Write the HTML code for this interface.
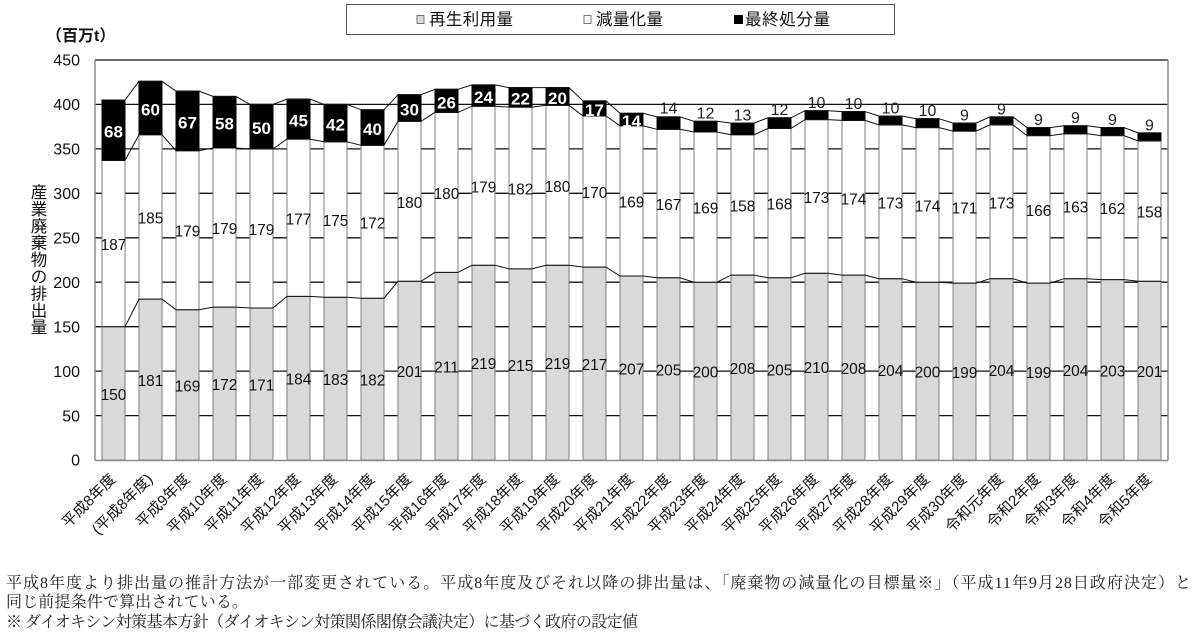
<!DOCTYPE html>
<html lang="ja">
<head>
<meta charset="utf-8">
<style>
  html,body{margin:0;padding:0;background:#fff;}
  svg{display:block;}
  .cjk{font-family:"Liberation Sans","Noto Sans CJK JP",sans-serif;}
  .g rect{fill:#d9d9d9;stroke:#7f7f7f;stroke-width:1;}
  .w rect{fill:#fff;stroke:#7f7f7f;stroke-width:1;}
  .b rect{fill:#000;stroke:#000;stroke-width:1;}
  .dl{font-family:"Liberation Sans",sans-serif;font-size:15.5px;fill:#111;text-anchor:middle;}
  .bl{font-family:"Liberation Sans",sans-serif;font-size:17px;font-weight:bold;fill:#fff;text-anchor:middle;}
  .al{font-family:"Liberation Sans",sans-serif;font-size:16px;fill:#222;text-anchor:middle;}
  .xl{font-family:"Liberation Sans","Noto Sans CJK JP",sans-serif;font-size:15px;fill:#111;text-anchor:end;}
  .yt{font-family:"Liberation Sans",sans-serif;font-size:16px;fill:#111;text-anchor:end;}
  .note{font-family:"Liberation Serif","Noto Serif CJK SC",serif;font-size:16px;fill:#222;}
</style>
</head>
<body>
<svg width="1200" height="635" viewBox="0 0 1200 635" xmlns="http://www.w3.org/2000/svg">
  <rect x="0" y="0" width="1200" height="635" fill="#fff"/>

  <!-- Legend -->
  <rect x="346.5" y="4.5" width="548" height="30" fill="#fff" stroke="#555" stroke-width="1"/>
  <rect x="417" y="15.5" width="7" height="8" fill="#d9d9d9" stroke="#555" stroke-width="0.8"/>
  <text class="cjk" x="429" y="25" font-size="16.5" fill="#111" textLength="84" lengthAdjust="spacing">再生利用量</text>
  <rect x="584" y="15.5" width="7" height="8" fill="#fff" stroke="#555" stroke-width="0.8"/>
  <text class="cjk" x="596" y="25" font-size="16.5" fill="#111" textLength="67" lengthAdjust="spacing">減量化量</text>
  <rect x="734" y="15" width="9" height="9" fill="#000"/>
  <text class="cjk" x="745" y="25" font-size="16.5" fill="#111" textLength="85" lengthAdjust="spacing">最終処分量</text>

  <!-- Unit -->
  <text class="cjk" x="46" y="41" font-size="16" font-weight="bold" fill="#111">（百万t）</text>

  <!-- Y axis title -->
  <g class="cjk" font-size="16.5" fill="#111" text-anchor="middle" dominant-baseline="central">
    <text x="39" y="193">産</text>
    <text x="39" y="209.9">業</text>
    <text x="39" y="226.8">廃</text>
    <text x="39" y="243.7">棄</text>
    <text x="39" y="260.6">物</text>
    <text x="39" y="277.5">の</text>
    <text x="39" y="294.4">排</text>
    <text x="39" y="311.3">出</text>
    <text x="39" y="328.2">量</text>
  </g>

  <!-- Y tick labels -->
  <g class="yt">
    <text x="80" y="465.7">0</text>
    <text x="80" y="421.3">50</text>
    <text x="80" y="376.8">100</text>
    <text x="80" y="332.4">150</text>
    <text x="80" y="287.9">200</text>
    <text x="80" y="243.5">250</text>
    <text x="80" y="199">300</text>
    <text x="80" y="154.6">350</text>
    <text x="80" y="110.1">400</text>
    <text x="80" y="65.7">450</text>
  </g>

  <!-- Gridlines -->
  <g stroke="#111" stroke-width="1.3">
    <line x1="95" y1="415.6" x2="1168" y2="415.6"/>
    <line x1="95" y1="371.1" x2="1168" y2="371.1"/>
    <line x1="95" y1="326.7" x2="1168" y2="326.7"/>
    <line x1="95" y1="282.2" x2="1168" y2="282.2"/>
    <line x1="95" y1="237.8" x2="1168" y2="237.8"/>
    <line x1="95" y1="193.3" x2="1168" y2="193.3"/>
    <line x1="95" y1="148.9" x2="1168" y2="148.9"/>
    <line x1="95" y1="104.4" x2="1168" y2="104.4"/>
    <line x1="95" y1="60" x2="1168" y2="60"/>
  </g>

  <!-- Gray bars -->
  <g class="g">
    <rect x="102" y="326.7" width="23" height="133.3"/>
    <rect x="139" y="299.1" width="23" height="160.9"/>
    <rect x="176" y="309.8" width="23" height="150.2"/>
    <rect x="213" y="307.1" width="23" height="152.9"/>
    <rect x="250" y="308" width="23" height="152"/>
    <rect x="287" y="296.4" width="23" height="163.6"/>
    <rect x="324" y="297.3" width="23" height="162.7"/>
    <rect x="361" y="298.2" width="23" height="161.8"/>
    <rect x="398" y="281.3" width="23" height="178.7"/>
    <rect x="435" y="272.4" width="23" height="187.6"/>
    <rect x="472" y="265.3" width="23" height="194.7"/>
    <rect x="509" y="268.9" width="23" height="191.1"/>
    <rect x="546" y="265.3" width="23" height="194.7"/>
    <rect x="583" y="267.1" width="23" height="192.9"/>
    <rect x="620" y="276" width="23" height="184"/>
    <rect x="657" y="277.8" width="23" height="182.2"/>
    <rect x="694" y="282.2" width="23" height="177.8"/>
    <rect x="731" y="275.1" width="23" height="184.9"/>
    <rect x="768" y="277.8" width="23" height="182.2"/>
    <rect x="805" y="273.3" width="23" height="186.7"/>
    <rect x="842" y="275.1" width="23" height="184.9"/>
    <rect x="879" y="278.7" width="23" height="181.3"/>
    <rect x="916" y="282.2" width="23" height="177.8"/>
    <rect x="953" y="283.1" width="23" height="176.9"/>
    <rect x="990" y="278.7" width="23" height="181.3"/>
    <rect x="1027" y="283.1" width="23" height="176.9"/>
    <rect x="1064" y="278.7" width="23" height="181.3"/>
    <rect x="1101" y="279.6" width="23" height="180.4"/>
    <rect x="1138" y="281.3" width="23" height="178.7"/>
  </g>

  <!-- White bars -->
  <g class="w">
    <rect x="102" y="160.4" width="23" height="166.3"/>
    <rect x="139" y="134.7" width="23" height="164.4"/>
    <rect x="176" y="150.7" width="23" height="159.1"/>
    <rect x="213" y="148" width="23" height="159.1"/>
    <rect x="250" y="148.9" width="23" height="159.1"/>
    <rect x="287" y="139.1" width="23" height="157.3"/>
    <rect x="324" y="141.8" width="23" height="155.5"/>
    <rect x="361" y="145.3" width="23" height="152.9"/>
    <rect x="398" y="121.3" width="23" height="160"/>
    <rect x="435" y="112.4" width="23" height="160"/>
    <rect x="472" y="106.2" width="23" height="159.1"/>
    <rect x="509" y="107.1" width="23" height="161.8"/>
    <rect x="546" y="105.3" width="23" height="160"/>
    <rect x="583" y="116" width="23" height="151.1"/>
    <rect x="620" y="125.8" width="23" height="150.2"/>
    <rect x="657" y="129.3" width="23" height="148.5"/>
    <rect x="694" y="132" width="23" height="150.2"/>
    <rect x="731" y="134.7" width="23" height="140.4"/>
    <rect x="768" y="128.4" width="23" height="149.4"/>
    <rect x="805" y="119.6" width="23" height="153.7"/>
    <rect x="842" y="120.4" width="23" height="154.7"/>
    <rect x="879" y="124.9" width="23" height="153.8"/>
    <rect x="916" y="127.6" width="23" height="154.6"/>
    <rect x="953" y="131.1" width="23" height="152"/>
    <rect x="990" y="124.9" width="23" height="153.8"/>
    <rect x="1027" y="135.6" width="23" height="147.5"/>
    <rect x="1064" y="133.8" width="23" height="144.9"/>
    <rect x="1101" y="135.6" width="23" height="144"/>
    <rect x="1138" y="140.9" width="23" height="140.4"/>
  </g>

  <!-- Black bars -->
  <g class="b">
    <rect x="102" y="100" width="23" height="60.4"/>
    <rect x="139" y="81.3" width="23" height="53.4"/>
    <rect x="176" y="91.1" width="23" height="59.6"/>
    <rect x="213" y="96.4" width="23" height="51.6"/>
    <rect x="250" y="104.4" width="23" height="44.5"/>
    <rect x="287" y="99.1" width="23" height="40"/>
    <rect x="324" y="104.4" width="23" height="37.4"/>
    <rect x="361" y="109.8" width="23" height="35.5"/>
    <rect x="398" y="94.7" width="23" height="26.6"/>
    <rect x="435" y="89.3" width="23" height="23.1"/>
    <rect x="472" y="84.9" width="23" height="21.3"/>
    <rect x="509" y="87.6" width="23" height="19.5"/>
    <rect x="546" y="87.6" width="23" height="17.7"/>
    <rect x="583" y="100.9" width="23" height="15.1"/>
    <rect x="620" y="113.3" width="23" height="12.5"/>
    <rect x="657" y="116.9" width="23" height="12.4"/>
    <rect x="694" y="121.3" width="23" height="10.7"/>
    <rect x="731" y="123.1" width="23" height="11.6"/>
    <rect x="768" y="117.8" width="23" height="10.6"/>
    <rect x="805" y="110.7" width="23" height="8.9"/>
    <rect x="842" y="111.6" width="23" height="8.8"/>
    <rect x="879" y="116" width="23" height="8.9"/>
    <rect x="916" y="118.7" width="23" height="8.9"/>
    <rect x="953" y="123.1" width="23" height="8"/>
    <rect x="990" y="116.9" width="23" height="8"/>
    <rect x="1027" y="127.6" width="23" height="8"/>
    <rect x="1064" y="125.8" width="23" height="8"/>
    <rect x="1101" y="127.6" width="23" height="8"/>
    <rect x="1138" y="132.9" width="23" height="8"/>
  </g>

  <!-- Series lines -->
  <g fill="none" stroke="#111" stroke-width="1">
    <polyline points="102,326.7 125,326.7 139,299.1 162,299.1 176,309.8 199,309.8 213,307.1 236,307.1 250,308 273,308 287,296.4 310,296.4 324,297.3 347,297.3 361,298.2 384,298.2 398,281.3 421,281.3 435,272.4 458,272.4 472,265.3 495,265.3 509,268.9 532,268.9 546,265.3 569,265.3 583,267.1 606,267.1 620,276 643,276 657,277.8 680,277.8 694,282.2 717,282.2 731,275.1 754,275.1 768,277.8 791,277.8 805,273.3 828,273.3 842,275.1 865,275.1 879,278.7 902,278.7 916,282.2 939,282.2 953,283.1 976,283.1 990,278.7 1013,278.7 1027,283.1 1050,283.1 1064,278.7 1087,278.7 1101,279.6 1124,279.6 1138,281.3 1161,281.3"/>
    <polyline points="102,160.4 125,160.4 139,134.7 162,134.7 176,150.7 199,150.7 213,148 236,148 250,148.9 273,148.9 287,139.1 310,139.1 324,141.8 347,141.8 361,145.3 384,145.3 398,121.3 421,121.3 435,112.4 458,112.4 472,106.2 495,106.2 509,107.1 532,107.1 546,105.3 569,105.3 583,116 606,116 620,125.8 643,125.8 657,129.3 680,129.3 694,132 717,132 731,134.7 754,134.7 768,128.4 791,128.4 805,119.6 828,119.6 842,120.4 865,120.4 879,124.9 902,124.9 916,127.6 939,127.6 953,131.1 976,131.1 990,124.9 1013,124.9 1027,135.6 1050,135.6 1064,133.8 1087,133.8 1101,135.6 1124,135.6 1138,140.9 1161,140.9"/>
    <polyline points="102,100 125,100 139,81.3 162,81.3 176,91.1 199,91.1 213,96.4 236,96.4 250,104.4 273,104.4 287,99.1 310,99.1 324,104.4 347,104.4 361,109.8 384,109.8 398,94.7 421,94.7 435,89.3 458,89.3 472,84.9 495,84.9 509,87.6 532,87.6 546,87.6 569,87.6 583,100.9 606,100.9 620,113.3 643,113.3 657,116.9 680,116.9 694,121.3 717,121.3 731,123.1 754,123.1 768,117.8 791,117.8 805,110.7 828,110.7 842,111.6 865,111.6 879,116 902,116 916,118.7 939,118.7 953,123.1 976,123.1 990,116.9 1013,116.9 1027,127.6 1050,127.6 1064,125.8 1087,125.8 1101,127.6 1124,127.6 1138,132.9 1161,132.9"/>
  </g>

  <!-- Axes / frame -->
  <g stroke="#8c8c8c" stroke-width="1.5" fill="none">
    <line x1="95" y1="60" x2="95" y2="460.5"/>
    <line x1="95" y1="460.5" x2="1168" y2="460.5"/>
    <line x1="1168" y1="60" x2="1168" y2="460.5"/>
  </g>

  <!-- Gray labels -->
  <g class="dl">
    <text x="113.5" y="399.8">150</text>
    <text x="150.5" y="386.1">181</text>
    <text x="187.5" y="391.4">169</text>
    <text x="224.5" y="390.1">172</text>
    <text x="261.5" y="390.5">171</text>
    <text x="298.5" y="384.7">184</text>
    <text x="335.5" y="385.2">183</text>
    <text x="372.5" y="385.6">182</text>
    <text x="409.5" y="377.2">201</text>
    <text x="446.5" y="372.7">211</text>
    <text x="483.5" y="369.2">219</text>
    <text x="520.5" y="370.9">215</text>
    <text x="557.5" y="369.2">219</text>
    <text x="594.5" y="370.1">217</text>
    <text x="631.5" y="374.5">207</text>
    <text x="668.5" y="375.4">205</text>
    <text x="705.5" y="377.6">200</text>
    <text x="742.5" y="374.1">208</text>
    <text x="779.5" y="375.4">205</text>
    <text x="816.5" y="373.2">210</text>
    <text x="853.5" y="374.1">208</text>
    <text x="890.5" y="375.8">204</text>
    <text x="927.5" y="377.6">200</text>
    <text x="964.5" y="378.1">199</text>
    <text x="1001.5" y="375.8">204</text>
    <text x="1038.5" y="378.1">199</text>
    <text x="1075.5" y="375.8">204</text>
    <text x="1112.5" y="376.3">203</text>
    <text x="1149.5" y="377.2">201</text>
  </g>

  <!-- White labels -->
  <g class="dl">
    <text x="113.5" y="250.1">187</text>
    <text x="150.5" y="223.4">185</text>
    <text x="187.5" y="236.7">179</text>
    <text x="224.5" y="234.1">179</text>
    <text x="261.5" y="234.9">179</text>
    <text x="298.5" y="224.3">177</text>
    <text x="335.5" y="226.1">175</text>
    <text x="372.5" y="228.3">172</text>
    <text x="409.5" y="207.8">180</text>
    <text x="446.5" y="198.9">180</text>
    <text x="483.5" y="192.3">179</text>
    <text x="520.5" y="194.5">182</text>
    <text x="557.5" y="191.8">180</text>
    <text x="594.5" y="198.1">170</text>
    <text x="631.5" y="207.4">169</text>
    <text x="668.5" y="210.1">167</text>
    <text x="705.5" y="213.6">169</text>
    <text x="742.5" y="211.4">158</text>
    <text x="779.5" y="209.6">168</text>
    <text x="816.5" y="202.9">173</text>
    <text x="853.5" y="204.3">174</text>
    <text x="890.5" y="208.3">173</text>
    <text x="927.5" y="211.4">174</text>
    <text x="964.5" y="213.6">171</text>
    <text x="1001.5" y="208.3">173</text>
    <text x="1038.5" y="215.8">166</text>
    <text x="1075.5" y="212.7">163</text>
    <text x="1112.5" y="214.1">162</text>
    <text x="1149.5" y="217.6">158</text>
  </g>

  <!-- Black labels (inside) -->
  <g class="bl">
    <text x="113.5" y="137.6">68</text>
    <text x="150.5" y="115.4">60</text>
    <text x="187.5" y="128.3">67</text>
    <text x="224.5" y="129.6">58</text>
    <text x="261.5" y="134.1">50</text>
    <text x="298.5" y="126.5">45</text>
    <text x="335.5" y="130.5">42</text>
    <text x="372.5" y="135">40</text>
    <text x="409.5" y="115.4">30</text>
    <text x="446.5" y="108.3">26</text>
    <text x="483.5" y="103">24</text>
    <text x="520.5" y="104.7">22</text>
    <text x="557.5" y="103.8">20</text>
    <text x="594.5" y="115.8">17</text>
    <text x="631.5" y="127">14</text>
  </g>

  <!-- Black labels (above) -->
  <g class="al">
    <text x="668.5" y="113.6">14</text>
    <text x="705.5" y="118.7">12</text>
    <text x="742.5" y="120.5">13</text>
    <text x="779.5" y="115.2">12</text>
    <text x="816.5" y="108.1">10</text>
    <text x="853.5" y="109">10</text>
    <text x="890.5" y="113.4">10</text>
    <text x="927.5" y="116.1">10</text>
    <text x="964.5" y="120.5">9</text>
    <text x="1001.5" y="114.3">9</text>
    <text x="1038.5" y="125">9</text>
    <text x="1075.5" y="123.2">9</text>
    <text x="1112.5" y="125">9</text>
    <text x="1149.5" y="130.3">9</text>
  </g>

  <!-- X labels -->
  <g class="xl">
    <text transform="translate(116.5,480) rotate(-45)">平成8年度</text>
    <text transform="translate(153.5,480) rotate(-45)">(平成8年度)</text>
    <text transform="translate(190.5,480) rotate(-45)">平成9年度</text>
    <text transform="translate(227.5,480) rotate(-45)">平成10年度</text>
    <text transform="translate(264.5,480) rotate(-45)">平成11年度</text>
    <text transform="translate(301.5,480) rotate(-45)">平成12年度</text>
    <text transform="translate(338.5,480) rotate(-45)">平成13年度</text>
    <text transform="translate(375.5,480) rotate(-45)">平成14年度</text>
    <text transform="translate(412.5,480) rotate(-45)">平成15年度</text>
    <text transform="translate(449.5,480) rotate(-45)">平成16年度</text>
    <text transform="translate(486.5,480) rotate(-45)">平成17年度</text>
    <text transform="translate(523.5,480) rotate(-45)">平成18年度</text>
    <text transform="translate(560.5,480) rotate(-45)">平成19年度</text>
    <text transform="translate(597.5,480) rotate(-45)">平成20年度</text>
    <text transform="translate(634.5,480) rotate(-45)">平成21年度</text>
    <text transform="translate(671.5,480) rotate(-45)">平成22年度</text>
    <text transform="translate(708.5,480) rotate(-45)">平成23年度</text>
    <text transform="translate(745.5,480) rotate(-45)">平成24年度</text>
    <text transform="translate(782.5,480) rotate(-45)">平成25年度</text>
    <text transform="translate(819.5,480) rotate(-45)">平成26年度</text>
    <text transform="translate(856.5,480) rotate(-45)">平成27年度</text>
    <text transform="translate(893.5,480) rotate(-45)">平成28年度</text>
    <text transform="translate(930.5,480) rotate(-45)">平成29年度</text>
    <text transform="translate(967.5,480) rotate(-45)">平成30年度</text>
    <text transform="translate(1004.5,480) rotate(-45)">令和元年度</text>
    <text transform="translate(1041.5,480) rotate(-45)">令和2年度</text>
    <text transform="translate(1078.5,480) rotate(-45)">令和3年度</text>
    <text transform="translate(1115.5,480) rotate(-45)">令和4年度</text>
    <text transform="translate(1152.5,480) rotate(-45)">令和5年度</text>
  </g>

  <!-- Notes -->
  <text class="note" x="6" y="588" textLength="1185" lengthAdjust="spacing">平成8年度より排出量の推計方法が一部変更されている。平成8年度及びそれ以降の排出量は、「廃棄物の減量化の目標量※」（平成11年9月28日政府決定）と</text>
  <text class="note" x="6" y="607" textLength="242" lengthAdjust="spacing">同じ前提条件で算出されている。</text>
  <text class="note" x="6" y="627" textLength="632" lengthAdjust="spacing">※ ダイオキシン対策基本方針（ダイオキシン対策関係閣僚会議決定）に基づく政府の設定値</text>
</svg>
</body>
</html>
